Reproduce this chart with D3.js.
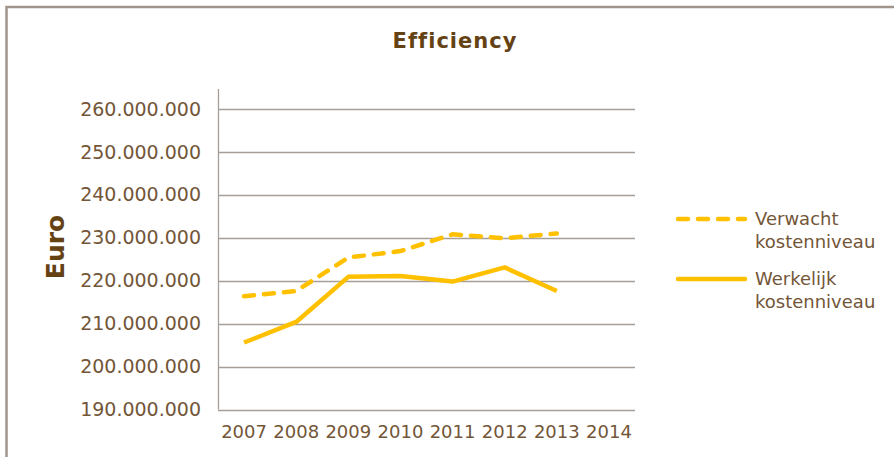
<!DOCTYPE html>
<html>
<head>
<meta charset="utf-8">
<script src="https://cdn.jsdelivr.net/npm/d3@7"></script>
<style>
  html, body { margin: 0; padding: 0; background: #ffffff; }
  svg { display: block; }
  text { font-family: "DejaVu Sans", Verdana, sans-serif; }
</style>
</head>
<body>
<svg id="chart" width="894" height="457"></svg>
<script>
// Chart data
const years = ["2007", "2008", "2009", "2010", "2011", "2012", "2013", "2014"];
const verwacht = [216400000, 217600000, 225400000, 226900000, 230800000, 229900000, 231000000, null];
const werkelijk = [205600000, 210400000, 220900000, 221100000, 219800000, 223100000, 217600000, null];
const yTicks = [190000000, 200000000, 210000000, 220000000, 230000000, 240000000, 250000000, 260000000];
const seriesNames = [["Verwacht", "kostenniveau"], ["Werkelijk", "kostenniveau"]];

const gold = "#FFC000";
const textBrown = "#735638";
const titleBrown = "#654214";
const gridGrey = "#a79e97";

const svg = d3.select("#chart");

// Outer frame (top and left edges visible)
svg.append("path")
  .attr("d", "M6.5,457 L6.5,7 L894,7")
  .attr("fill", "none")
  .attr("stroke", "#a0958d")
  .attr("stroke-width", 2.5);

const plot = { left: 218, right: 635, top: 89, bottom: 409.5 };

const x = d3.scaleBand().domain(years).range([plot.left, plot.right]);
const y = d3.scaleLinear().domain([190000000, 260000000]).range([plot.bottom, 109]);

const nl = d3.formatLocale({ decimal: ",", thousands: ".", grouping: [3], currency: ["€", ""] });
const fmt = nl.format(",.0f");

// Horizontal gridlines
svg.append("g")
  .selectAll("line")
  .data(yTicks)
  .join("line")
  .attr("x1", plot.left).attr("x2", plot.right)
  .attr("y1", d => Math.round(y(d)) + 0.5).attr("y2", d => Math.round(y(d)) + 0.5)
  .attr("stroke", gridGrey)
  .attr("stroke-width", 1.3);

// Y axis
const yAxis = svg.append("g")
  .attr("transform", `translate(${plot.left},0)`)
  .call(d3.axisLeft(y).tickValues(yTicks).tickFormat(fmt).tickSize(0).tickPadding(17));
yAxis.select(".domain").remove();
yAxis.selectAll("text")
  .attr("fill", textBrown)
  .style("font-size", "19px")
  .style("font-family", "'DejaVu Sans', Verdana, sans-serif");

svg.append("line")
  .attr("x1", plot.left + 0.5).attr("x2", plot.left + 0.5)
  .attr("y1", plot.top).attr("y2", plot.bottom)
  .attr("stroke", gridGrey).attr("stroke-width", 1.3);

// X axis
const xAxis = svg.append("g")
  .attr("transform", `translate(0,${plot.bottom})`)
  .call(d3.axisBottom(x).tickSize(0).tickPadding(16));
xAxis.select(".domain").remove();
xAxis.selectAll("text")
  .attr("fill", textBrown)
  .style("font-size", "18px")
  .style("font-family", "'DejaVu Sans', Verdana, sans-serif");

// Axis title
svg.append("text")
  .attr("transform", "translate(64,247) rotate(-90)")
  .attr("text-anchor", "middle")
  .attr("fill", titleBrown)
  .style("font-size", "25px")
  .style("font-weight", "bold")
  .text("Euro");

// Chart title
svg.append("text")
  .attr("x", 455).attr("y", 48)
  .attr("text-anchor", "middle")
  .attr("fill", titleBrown)
  .style("font-size", "21px")
  .style("font-weight", "bold")
  .style("letter-spacing", "1px")
  .text("Efficiency");

// Series lines
const line = d3.line()
  .defined(d => d.v !== null)
  .x(d => x(d.year) + x.bandwidth() / 2)
  .y(d => y(d.v));

const toPoints = vals => years.map((yr, i) => ({ year: yr, v: vals[i] }));

svg.append("path")
  .datum(toPoints(werkelijk))
  .attr("d", line)
  .attr("fill", "none")
  .attr("stroke", gold)
  .attr("stroke-width", 4.5)
  .attr("stroke-linejoin", "round");

svg.append("path")
  .datum(toPoints(verwacht))
  .attr("d", line)
  .attr("fill", "none")
  .attr("stroke", gold)
  .attr("stroke-width", 4.5)
  .attr("stroke-linecap", "round")
  .attr("stroke-dasharray", "10,10")
  .attr("stroke-linejoin", "round");

// Legend
const legend = svg.append("g");
const legendItems = [
  { names: seriesNames[0], dash: "10,10", y: 219 },
  { names: seriesNames[1], dash: null, y: 279 }
];
legendItems.forEach(item => {
  legend.append("line")
    .attr("x1", 678).attr("x2", 745)
    .attr("y1", item.y).attr("y2", item.y)
    .attr("stroke", gold)
    .attr("stroke-width", 4.5)
    .attr("stroke-linecap", "round")
    .attr("stroke-dasharray", item.dash);
  const t = legend.append("text")
    .attr("x", 755)
    .attr("y", item.y + 6)
    .attr("fill", textBrown)
    .style("font-size", "18px");
  item.names.forEach((n, i) => {
    t.append("tspan").attr("x", 755).attr("dy", i === 0 ? 0 : 23).text(n);
  });
});
</script>
</body>
</html>
